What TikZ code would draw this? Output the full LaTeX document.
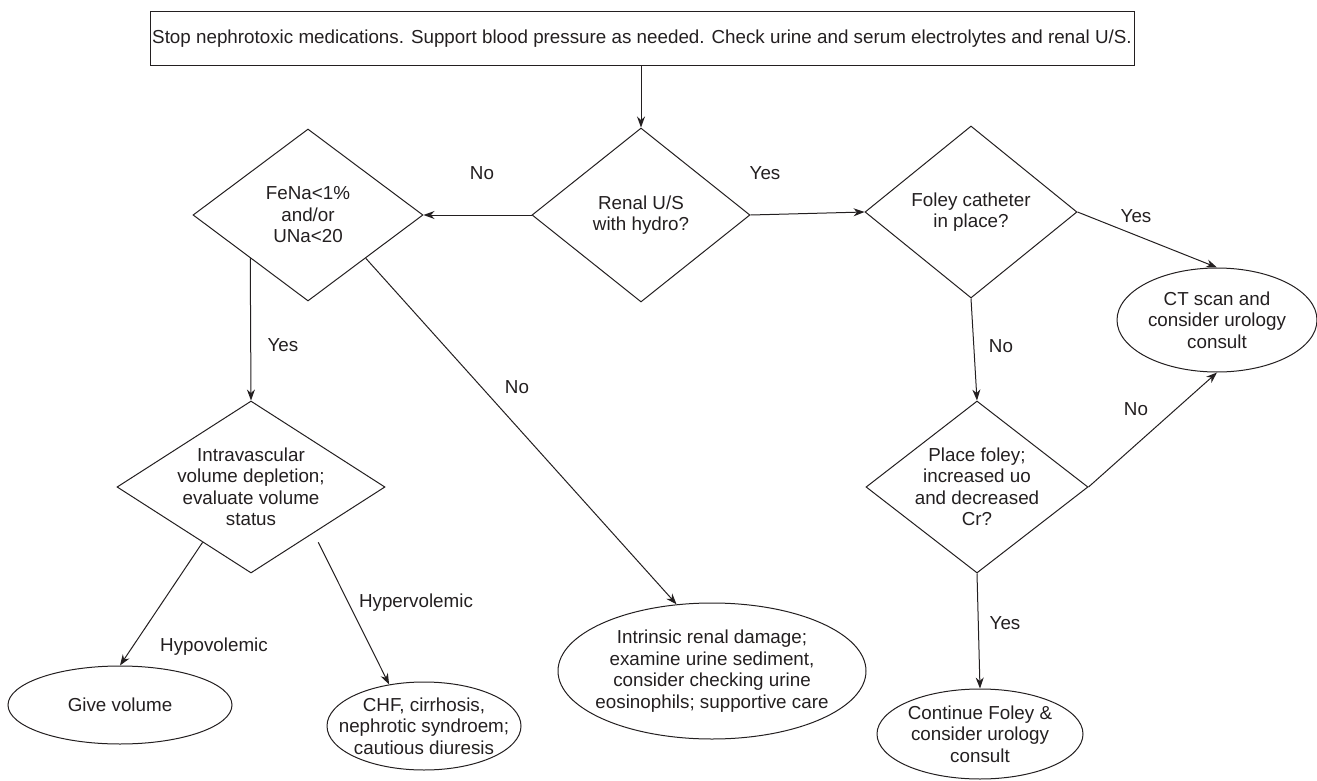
\documentclass[tikz,border=0pt]{standalone}
\usepackage{fontspec}
\setmainfont{Liberation Sans}
\usetikzlibrary{shapes.geometric,arrows.meta,calc}
\definecolor{ink}{RGB}{35,31,32}

\begin{document}
\begin{tikzpicture}[x=1pt, y=-1pt,
    every node/.style={font=\fontsize{18.8}{21.5}\selectfont, text=ink},
    decision/.style={diamond, draw=ink, line width=1pt, inner sep=-20pt, align=center},
    outcome/.style={ellipse, draw=ink, line width=1pt, inner sep=-20pt, align=center},
    answer/.style={inner sep=0pt},
    flow/.style={draw=ink, line width=1pt, -{Stealth[length=11pt, width=8pt]}}]
        \useasboundingbox (0,0) rectangle (1317,781);

        % Start box
        \node[draw=ink, line width=1pt, inner sep=0pt, minimum width=984, minimum height=54] (start) at (642,39)
            {Stop nephrotoxic medications. Support blood pressure as needed. Check urine and serum electrolytes and renal U/S.};

        % Decisions
        \node[decision, minimum width=218, minimum height=174] (renal) at (641,215) {Renal U/S\\with hydro?};
        \node[decision, minimum width=230, minimum height=172] (fena)  at (308,215) {FeNa<1\%\\and/or\\UNa<20};
        \node[decision, minimum width=212, minimum height=172] (foley) at (971,212) {Foley catheter\\in place?};
        \node[decision, minimum width=268, minimum height=172] (intra) at (251,487) {Intravascular\\volume depletion;\\evaluate volume\\status};
        \node[decision, minimum width=222, minimum height=172] (place) at (977,487) {Place foley;\\increased uo\\and decreased\\Cr?};

        % Outcomes
        \node[outcome, minimum width=224, minimum height=78]  (give)      at (120,705) {Give volume};
        \node[outcome, minimum width=194, minimum height=88]  (chf)       at (424,726) {CHF, cirrhosis,\\nephrotic syndroem;\\cautious diuresis};
        \node[outcome, minimum width=308, minimum height=136] (intrinsic) at (712,671) {Intrinsic renal damage;\\examine urine sediment,\\consider checking urine\\eosinophils; supportive care};
        \node[outcome, minimum width=200, minimum height=104] (ct)        at (1217,320) {CT scan and\\consider urology\\consult};
        \node[outcome, minimum width=206, minimum height=90]  (cont)      at (980,734) {Continue Foley \&\\consider urology\\consult};

        % Connectors
        \draw[flow] (start.south -| renal.north) -- (renal.north);
        \draw[flow] (renal.west) -- (fena.east);
        \draw[flow] (renal.east) -- (foley.west);
        \draw[flow] (fena.south west) -- (intra.north);
        \draw[flow] (fena.south east) -- (intrinsic.118);
        \draw[flow] ($(intra.west)!0.64!(intra.south)$) -- (give.north);
        \draw[flow] ([yshift=-12pt]intra.south east) -- (chf.130);
        \draw[flow] (foley.east) -- (ct.north);
        \draw[flow] (foley.south) -- (place.north);
        \draw[flow] (place.east) -- (ct.south);
        \draw[flow] (place.south) -- (cont.north);

        % Answers
        \node[answer] (renal-no)  at (482,173)  {No};
        \node[answer] (renal-yes) at (765,173)  {Yes};
        \node[answer] (fena-yes)  at (283,345)  {Yes};
        \node[answer] (fena-no)   at (517,387)  {No};
        \node[answer] (hypo)      at (214,647)  {Hypovolemic};
        \node[answer] (hyper)     at (416,603)  {Hypervolemic};
        \node[answer] (foley-yes) at (1136,216) {Yes};
        \node[answer] (foley-no)  at (1001,346) {No};
        \node[answer] (place-no)  at (1136,409) {No};
        \node[answer] (place-yes) at (1005,623) {Yes};
    \end{tikzpicture}
\end{document}
